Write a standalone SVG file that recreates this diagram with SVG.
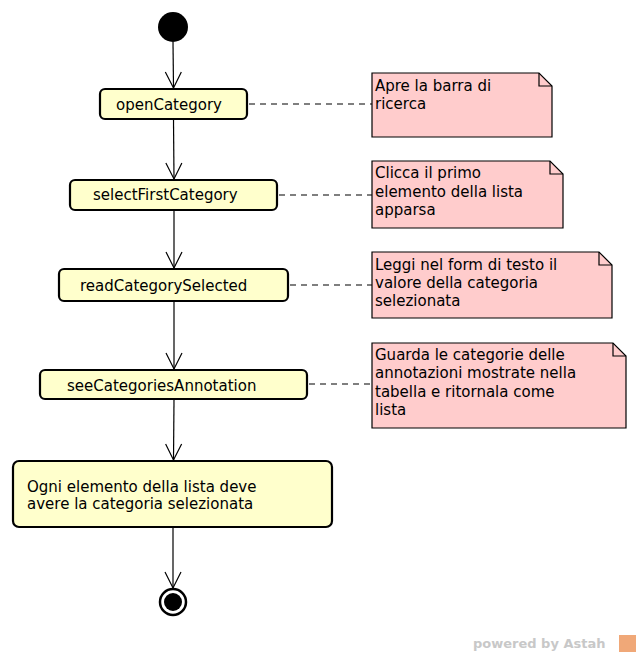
<svg xmlns="http://www.w3.org/2000/svg" width="640" height="656" viewBox="0 0 640 656">
<defs>
<style>
.act{fill:#ffffcc;stroke:#000;stroke-width:2.2}
.note{fill:#ffcccc;stroke:#000;stroke-width:1.2}
.fold{fill:none;stroke:#000;stroke-width:1.2}
.t{font-family:"DejaVu Sans",sans-serif;font-size:15px;fill:#000}
.flow{stroke:#000;stroke-width:1.2;fill:none}
.dash{stroke:#000;stroke-width:1.2;fill:none;stroke-dasharray:6,5}
</style>
<marker id="v" viewBox="-20 -10 22 20" refX="0" refY="0" markerWidth="22" markerHeight="20" markerUnits="userSpaceOnUse" orient="auto">
<path d="M-16,-8 L0,0 L-16,8" fill="none" stroke="#000" stroke-width="1.2"/>
</marker>
</defs>
<rect width="640" height="656" fill="#fff"/>
<g id="connectors">
<line class="flow" x1="173" y1="42" x2="173.5" y2="88" marker-end="url(#v)"/>
<line class="flow" x1="173.5" y1="120" x2="174" y2="179" marker-end="url(#v)"/>
<line class="flow" x1="174" y1="211" x2="174" y2="268" marker-end="url(#v)"/>
<line class="flow" x1="174" y1="302" x2="174" y2="369" marker-end="url(#v)"/>
<line class="flow" x1="174" y1="400" x2="173.5" y2="460" marker-end="url(#v)"/>
<line class="flow" x1="173" y1="528" x2="173" y2="588" marker-end="url(#v)"/>
<line class="dash" x1="249" y1="104" x2="372" y2="104"/>
<line class="dash" x1="279" y1="195" x2="372" y2="195"/>
<line class="dash" x1="290" y1="285" x2="372" y2="285"/>
<line class="dash" x1="309" y1="384" x2="372" y2="384"/>
</g>
<g id="start"><circle cx="173" cy="27" r="15" fill="#000"/></g>
<g id="openCategory"><rect class="act" x="100" y="89" width="147" height="30" rx="5"/><text class="t" x="116" y="110">openCategory</text></g>
<g id="selectFirstCategory"><rect class="act" x="70" y="180" width="207" height="30" rx="5"/><text class="t" x="93" y="200">selectFirstCategory</text></g>
<g id="readCategorySelected"><rect class="act" x="59" y="269" width="229" height="32" rx="5"/><text class="t" x="80" y="291">readCategorySelected</text></g>
<g id="seeCategoriesAnnotation"><rect class="act" x="40" y="370" width="267" height="29" rx="5"/><text class="t" x="67" y="391">seeCategoriesAnnotation</text></g>
<g id="check"><rect class="act" x="13" y="461" width="319" height="66" rx="6"/><text class="t" x="27" y="492">Ogni elemento della lista deve</text><text class="t" x="27" y="509">avere la categoria selezionata</text></g>
<g id="end"><circle cx="173" cy="602" r="13" fill="#fff" stroke="#000" stroke-width="2.5"/><circle cx="173" cy="602" r="9" fill="#000"/></g>
<g id="note1"><path class="note" d="M372,73 H539 L552,86 V137 H372 Z"/><path class="fold" d="M539,73 V86 H552"/><text class="t" x="375" y="91">Apre la barra di</text><text class="t" x="375" y="109">ricerca</text></g>
<g id="note2"><path class="note" d="M372,161 H550 L563,174 V228 H372 Z"/><path class="fold" d="M550,161 V174 H563"/><text class="t" x="375" y="178">Clicca il primo</text><text class="t" x="375" y="197">elemento della lista</text><text class="t" x="375" y="215">apparsa</text></g>
<g id="note3"><path class="note" d="M372,252 H599 L612,265 V318 H372 Z"/><path class="fold" d="M599,252 V265 H612"/><text class="t" x="375" y="270">Leggi nel form di testo il</text><text class="t" x="375" y="288">valore della categoria</text><text class="t" x="375" y="306">selezionata</text></g>
<g id="note4"><path class="note" d="M372,343 H613 L626,356 V428 H372 Z"/><path class="fold" d="M613,343 V356 H626"/><text class="t" x="375" y="360">Guarda le categorie delle</text><text class="t" x="375" y="378">annotazioni mostrate nella</text><text class="t" x="375" y="397">tabella e ritornala come</text><text class="t" x="375" y="415">lista</text></g>
<g id="watermark"><text x="473" y="648" font-family="DejaVu Sans, sans-serif" font-size="13" font-weight="bold" fill="#c8c8c8">powered by Astah</text><rect x="619" y="635" width="17" height="17" fill="#f0a878"/></g>
</svg>
